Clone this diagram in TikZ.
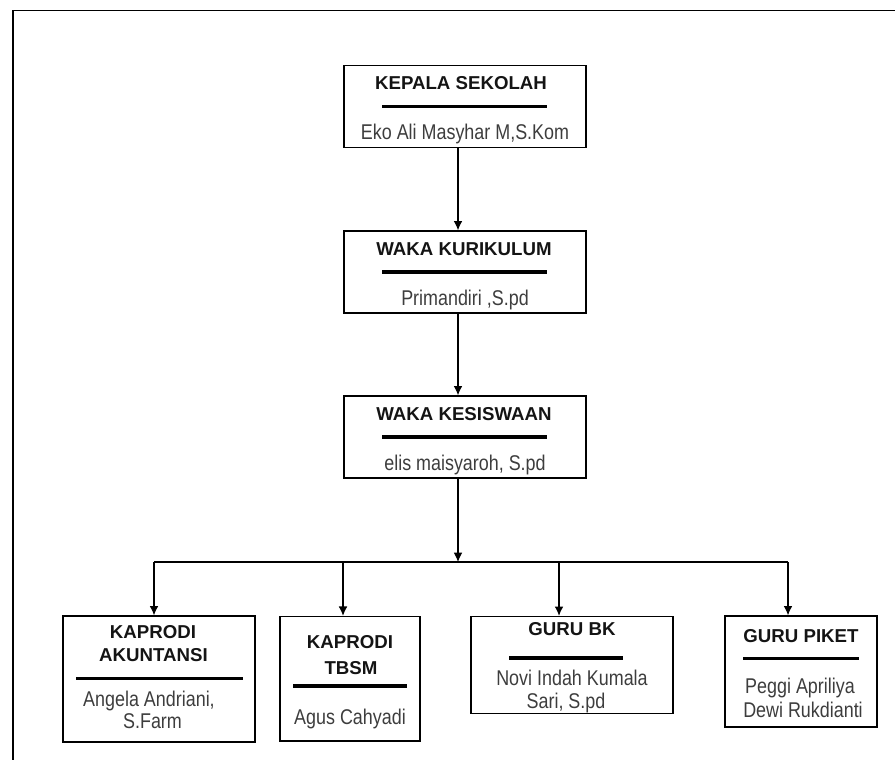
\documentclass[tikz,border=0pt]{standalone}
\usepackage{fontspec}
\setmainfont{Liberation Sans}
\newfontfamily\narrowfont{Liberation Sans}[FakeStretch=0.84]
\usetikzlibrary{arrows.meta}

\newcommand{\titlefont}{\fontsize{14}{17}\selectfont\bfseries}
\newcommand{\namefont}{\narrowfont\fontsize{16}{16.5}\selectfont}

\begin{document}
\begin{tikzpicture}[x=0.75pt, y=-0.75pt, >={Latex[length=7pt,width=6.5pt]},
  box/.style={draw, line width=1pt, inner sep=0pt},
  orgtitle/.style={anchor=base, inner sep=0pt, text=black!92, font=\titlefont},
  orgname/.style={anchor=base, inner sep=0pt, text=black!76, font=\namefont},
  bar/.style={line width=2.6pt},
  link/.style={line width=0.8pt}];

\useasboundingbox (0,0) rectangle (895,760);
\draw[line width=1.1pt] (895,10.5) -- (13,10.5) -- (13,760);

% top of the chart
\node (kepala) at (465,106.5) [box, minimum width=181.5pt, minimum height=61.5pt] {};
\node (kepalaT) at (461,89.5) [orgtitle] {KEPALA SEKOLAH};
\draw[bar] (382,106.5) -- (547,106.5);
\node (kepalaN) at (465,139) [orgname] {Eko Ali Masyhar M,S.Kom};

\node (kurikulum) at (465,272) [box, minimum width=181.5pt, minimum height=61.5pt] {};
\node (kurikulumT) at (464,255) [orgtitle] {WAKA KURIKULUM};
\draw[bar] (382,272) -- (547,272);
\node (kurikulumN) at (465,305) [orgname] {Primandiri ,S.pd};

\node (kesiswaan) at (465,437) [box, minimum width=181.5pt, minimum height=61.5pt] {};
\node (kesiswaanT) at (464,420) [orgtitle] {WAKA KESISWAAN};
\draw[bar] (382,437) -- (547,437);
\node (kesiswaanN) at (465,470) [orgname] {elis maisyaroh, S.pd};

% bottom row
\node (akuntansi) at (159,679) [box, minimum width=144pt, minimum height=94.5pt] {};
\node (akuntansiT1) at (153,638) [orgtitle] {KAPRODI};
\node (akuntansiT2) at (153.5,661.5) [orgtitle] {AKUNTANSI};
\draw[bar] (76,678.5) -- (243,678.5);
\node (akuntansiN1) at (149,706) [orgname] {Angela Andriani,};
\node (akuntansiN2) at (152.5,728) [orgname] {S.Farm};

\node (tbsm) at (350,678.75) [box, minimum width=105pt, minimum height=93.4pt] {};
\node (tbsmT1) at (350,648) [orgtitle] {KAPRODI};
\node (tbsmT2) at (351,674) [orgtitle] {TBSM};
\draw[bar] (293,686) -- (407,686);
\node (tbsmN) at (350,724) [orgname] {Agus Cahyadi};

\node (gurubk) at (572,665) [box, minimum width=151.5pt, minimum height=72.75pt] {};
\node (gurubkT) at (572,635) [orgtitle] {GURU BK};
\draw[bar] (509,658) -- (623,658);
\node (gurubkN1) at (572,685) [orgname] {Novi Indah Kumala};
\node (gurubkN2) at (566,708) [orgname] {Sari, S.pd};

\node (piket) at (801,671.5) [box, minimum width=114pt, minimum height=83.25pt] {};
\node (piketT) at (801,642) [orgtitle] {GURU PIKET};
\draw[bar] (743,658.3) -- (859,658.3);
\node (piketN1) at (800,693) [orgname] {Peggi Apriliya};
\node (piketN2) at (803,717) [orgname] {Dewi Rukdianti};

% connectors
\coordinate (bus) at (458,562);
\coordinate (b1) at (154,562);
\coordinate (b2) at (343,562);
\coordinate (b3) at (559,562);
\coordinate (b4) at (788,562);

\draw[->, link] ([xshift=-5.25pt]kepala.south) -- ([xshift=-5.25pt]kurikulum.north);
\draw[->, link] ([xshift=-5.25pt]kurikulum.south) -- ([xshift=-5.25pt]kesiswaan.north);
\draw[->, link] ([xshift=-5.25pt]kesiswaan.south) -- (bus);
\draw[link] (b1) -- (b4);
\draw[->, link] (b1) -- (b1 |- akuntansi.north);
\draw[->, link] (b2) -- (b2 |- tbsm.north);
\draw[->, link] (b3) -- (b3 |- gurubk.north);
\draw[->, link] (b4) -- (b4 |- piket.north);

\end{tikzpicture}
\end{document}
